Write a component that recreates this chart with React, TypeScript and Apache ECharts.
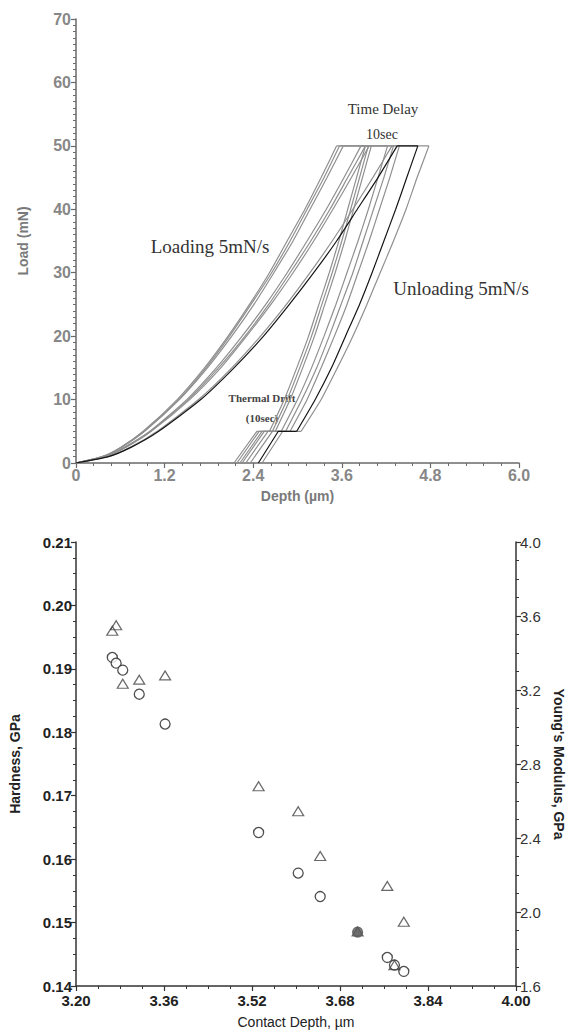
import { useEffect, useRef } from 'react';
import * as echarts from 'echarts';

// ---------- Top chart: load–depth curves ----------
const loadLevels = [0, 1, 2.5, 5, 10, 15, 20, 25, 30, 35, 40, 45, 50];
const loadingDepths = [
  [0, 0.35, 0.61, 0.91, 1.37, 1.74, 2.06, 2.35, 2.62, 2.86, 3.10, 3.32, 3.53],
  [0, 0.36, 0.61, 0.92, 1.39, 1.76, 2.08, 2.37, 2.65, 2.90, 3.13, 3.36, 3.57],
  [0, 0.36, 0.62, 0.93, 1.40, 1.78, 2.11, 2.41, 2.68, 2.94, 3.17, 3.40, 3.62],
  [0, 0.39, 0.66, 1.00, 1.50, 1.90, 2.25, 2.57, 2.86, 3.13, 3.39, 3.63, 3.86],
  [0, 0.39, 0.67, 1.01, 1.52, 1.93, 2.29, 2.61, 2.90, 3.18, 3.44, 3.68, 3.92],
  [0, 0.40, 0.68, 1.02, 1.54, 1.96, 2.31, 2.64, 2.94, 3.22, 3.48, 3.73, 3.97],
  [0, 0.44, 0.75, 1.12, 1.69, 2.14, 2.54, 2.89, 3.22, 3.53, 3.81, 4.09, 4.35],
  [0, 0.43, 0.74, 1.10, 1.66, 2.11, 2.50, 2.85, 3.17, 3.47, 3.75, 4.02, 4.28],
];
const holdLoad = 50;
const holdEndDepths = [3.92, 3.96, 4.0, 4.22, 4.3, 4.38, 4.63, 4.78];
const unloadLevels = [45, 40, 35, 30, 25, 20, 15, 10, 5];
const unloadingDepths = [
  [3.80, 3.68, 3.56, 3.43, 3.29, 3.15, 2.99, 2.82, 2.62],
  [3.84, 3.72, 3.60, 3.47, 3.33, 3.19, 3.03, 2.86, 2.66],
  [3.88, 3.76, 3.64, 3.51, 3.37, 3.23, 3.07, 2.90, 2.70],
  [4.09, 3.96, 3.82, 3.67, 3.52, 3.36, 3.19, 3.00, 2.78],
  [4.17, 4.03, 3.89, 3.75, 3.59, 3.43, 3.26, 3.06, 2.84],
  [4.25, 4.11, 3.97, 3.82, 3.67, 3.50, 3.32, 3.13, 2.90],
  [4.48, 4.33, 4.17, 4.01, 3.84, 3.65, 3.46, 3.24, 2.99],
  [4.62, 4.47, 4.30, 4.12, 3.94, 3.75, 3.54, 3.32, 3.05],
];
const driftLoad = 5;
const driftEndDepths = [2.45, 2.48, 2.52, 2.55, 2.6, 2.66, 2.74, 2.8];
const finalDepths = [2.14, 2.18, 2.22, 2.25, 2.3, 2.36, 2.47, 2.52];
const blackCurve = 6;

const depthTicks = [0, 1.2, 2.4, 3.6, 4.8, 6.0];
const loadTicks = [0, 10, 20, 30, 40, 50, 60, 70];

// ---------- Bottom chart: hardness / modulus ----------
const contactDepth = [3.266, 3.273, 3.285, 3.315, 3.362, 3.532, 3.604, 3.644, 3.712, 3.766, 3.779, 3.796];
const hardness = [0.1918, 0.1909, 0.1898, 0.186, 0.1813, 0.1642, 0.1578, 0.1541, 0.1485, 0.1445, 0.1433, 0.1423];
const modulus = [3.52, 3.55, 3.234, 3.256, 3.279, 2.68, 2.545, 2.303, 1.895, 2.141, 1.713, 1.947];
const highlightedIndex = 8;

const contactTicks = [3.2, 3.36, 3.52, 3.68, 3.84, 4.0];
const hardnessTicks = [0.14, 0.15, 0.16, 0.17, 0.18, 0.19, 0.2, 0.21];
const modulusTicks = [1.6, 2.0, 2.4, 2.8, 3.2, 3.6, 4.0];

export default function App() {
  const ref = useRef<HTMLDivElement>(null);

  useEffect(() => {
    if (!ref.current) return;
    const chart = echarts.init(ref.current, null, { renderer: 'svg' });

    const GRAY = '#8f8f8f';
    const BLACK = '#151515';
    const topSeries: any[] = [];
    loadingDepths.forEach((depths, i) => {
      const color = i === blackCurve ? BLACK : GRAY;
      const base = {
        type: 'line',
        xAxisIndex: 0,
        yAxisIndex: 0,
        showSymbol: false,
        symbol: 'none',
        lineStyle: { color, width: 1.2 },
        silent: true,
        z: i === blackCurve ? 3 : 2,
      };
      const hMax = depths[depths.length - 1];
      topSeries.push({
        ...base,
        smooth: 0.2,
        data: loadLevels.map((p, j) => [depths[j], p]),
      });
      topSeries.push({
        ...base,
        data: [
          [hMax, holdLoad],
          [holdEndDepths[i], holdLoad],
        ],
      });
      topSeries.push({
        ...base,
        smooth: 0.2,
        data: [[holdEndDepths[i], holdLoad], ...unloadLevels.map((p, j) => [unloadingDepths[i][j], p])],
      });
      const h5 = unloadingDepths[i][unloadingDepths[i].length - 1];
      topSeries.push({
        ...base,
        data: [
          [h5, driftLoad],
          [driftEndDepths[i], driftLoad],
          [finalDepths[i], 0],
        ],
      });
    });

    const sans = 'Liberation Sans, Arial, sans-serif';
    const serif = 'Liberation Serif, Times New Roman, serif';
    const topAxisLine = { lineStyle: { color: '#6a6a6a', width: 1.5 } };
    const topLabel = { color: '#878787', fontSize: 16, fontWeight: 'bold', fontFamily: sans };
    const botAxisLine = { lineStyle: { color: '#333', width: 1.5 } };
    const botLabel = { color: '#222', fontSize: 15, fontWeight: 'bold', fontFamily: sans };

    chart.setOption({
      animation: false,
      backgroundColor: '#fff',
      grid: [
        { left: 76, top: 19, width: 443, height: 444 },
        { left: 76, top: 542, width: 444, height: 444 },
      ],
      xAxis: [
        {
          gridIndex: 0,
          type: 'value',
          min: depthTicks[0],
          max: depthTicks[depthTicks.length - 1],
          interval: depthTicks[1] - depthTicks[0],
          name: 'Depth (µm)',
          nameLocation: 'middle',
          nameGap: 26,
          nameTextStyle: { color: '#7a7a7a', fontSize: 14, fontWeight: 'bold', fontFamily: sans },
          axisLine: topAxisLine,
          axisTick: { show: true, length: 5, lineStyle: { color: '#6a6a6a', width: 1.2 } },
          minorTick: { show: true, splitNumber: 5, length: 3, lineStyle: { color: '#6a6a6a', width: 1 } },
          axisLabel: { ...topLabel, margin: 4, formatter: (v: number) => (v === 0 ? '0' : v.toFixed(1)) },
          splitLine: { show: false },
        },
        {
          gridIndex: 1,
          type: 'value',
          min: contactTicks[0],
          max: contactTicks[contactTicks.length - 1],
          interval: 0.16,
          name: 'Contact Depth, µm',
          nameLocation: 'middle',
          nameGap: 29,
          nameTextStyle: { color: '#222', fontSize: 14, fontFamily: sans },
          axisLine: botAxisLine,
          axisTick: { show: true, length: 5, lineStyle: { color: '#333', width: 1.2 } },
          minorTick: { show: true, splitNumber: 4, length: 3, lineStyle: { color: '#333', width: 1 } },
          axisLabel: { ...botLabel, margin: 7, formatter: (v: number) => v.toFixed(2) },
          splitLine: { show: false },
        },
      ],
      yAxis: [
        {
          gridIndex: 0,
          type: 'value',
          min: loadTicks[0],
          max: loadTicks[loadTicks.length - 1],
          interval: 10,
          name: 'Load (mN)',
          nameLocation: 'middle',
          nameGap: 46,
          nameTextStyle: { color: '#7a7a7a', fontSize: 14, fontWeight: 'bold', fontFamily: sans },
          axisLine: topAxisLine,
          axisTick: { show: true, length: 5, lineStyle: { color: '#6a6a6a', width: 1.2 } },
          minorTick: { show: true, splitNumber: 10, length: 3, lineStyle: { color: '#6a6a6a', width: 1 } },
          axisLabel: { ...topLabel, margin: 5 },
          splitLine: { show: false },
        },
        {
          gridIndex: 1,
          type: 'value',
          min: hardnessTicks[0],
          max: hardnessTicks[hardnessTicks.length - 1],
          interval: 0.01,
          name: 'Hardness, GPa',
          nameLocation: 'middle',
          nameGap: 54,
          nameTextStyle: { color: '#222', fontSize: 14, fontWeight: 'bold', fontFamily: sans },
          axisLine: botAxisLine,
          axisTick: { show: true, length: 5, lineStyle: { color: '#333', width: 1.2 } },
          minorTick: { show: true, splitNumber: 4, length: 3, lineStyle: { color: '#333', width: 1 } },
          axisLabel: { ...botLabel, margin: 4, formatter: (v: number) => v.toFixed(2) },
          splitLine: { show: false },
        },
        {
          gridIndex: 1,
          type: 'value',
          position: 'right',
          min: modulusTicks[0],
          max: modulusTicks[modulusTicks.length - 1],
          interval: 0.4,
          name: "Young's Modulus, GPa",
          nameLocation: 'middle',
          nameRotate: -90,
          nameGap: 36,
          nameTextStyle: { color: '#222', fontSize: 14, fontWeight: 'bold', fontFamily: sans },
          axisLine: { show: true, ...botAxisLine },
          axisTick: { show: true, length: 5, lineStyle: { color: '#333', width: 1.2 } },
          minorTick: { show: true, splitNumber: 4, length: 3, lineStyle: { color: '#333', width: 1 } },
          axisLabel: { color: '#333', fontSize: 15, fontFamily: sans, margin: 4, formatter: (v: number) => v.toFixed(1) },
          splitLine: { show: false },
        },
      ],
      series: [
        ...topSeries,
        {
          type: 'scatter',
          xAxisIndex: 1,
          yAxisIndex: 1,
          symbol: 'circle',
          symbolSize: 10,
          itemStyle: { color: '#fff', borderColor: '#222', borderWidth: 1.3 },
          data: contactDepth.map((d, i) =>
            i === highlightedIndex
              ? { value: [d, hardness[i]], itemStyle: { color: '#666', borderColor: '#555' } }
              : [d, hardness[i]]
          ),
          z: 3,
        },
        {
          type: 'scatter',
          xAxisIndex: 1,
          yAxisIndex: 2,
          symbol: 'triangle',
          symbolSize: [11, 9],
          itemStyle: { color: 'rgba(255,255,255,0)', borderColor: '#444', borderWidth: 1.2 },
          data: contactDepth.map((d, i) =>
            i === highlightedIndex
              ? { value: [d, modulus[i]], itemStyle: { color: '#666', borderColor: '#555' } }
              : [d, modulus[i]]
          ),
          z: 4,
        },
      ],
      graphic: [
        { type: 'text', x: 383, y: 109, style: { text: 'Time Delay', align: 'center', verticalAlign: 'middle', font: `15px ${serif}`, fill: '#333' } },
        { type: 'text', x: 382, y: 134, style: { text: '10sec', align: 'center', verticalAlign: 'middle', font: `14px ${serif}`, fill: '#333' } },
        { type: 'text', x: 210, y: 246, style: { text: 'Loading 5mN/s', align: 'center', verticalAlign: 'middle', font: `19px ${serif}`, fill: '#333' } },
        { type: 'text', x: 461, y: 288, style: { text: 'Unloading 5mN/s', align: 'center', verticalAlign: 'middle', font: `19px ${serif}`, fill: '#333' } },
        { type: 'text', x: 262, y: 398, style: { text: 'Thermal Drift', align: 'center', verticalAlign: 'middle', font: `bold 11px ${serif}`, fill: '#444' } },
        { type: 'text', x: 262, y: 418, style: { text: '(10sec)', align: 'center', verticalAlign: 'middle', font: `bold 11px ${serif}`, fill: '#444' } },
      ],
    });

    return () => chart.dispose();
  }, []);

  return (
    <div
      ref={ref}
      style={{ position: 'fixed', left: 0, top: 0, width: 574, height: 1031, background: '#fff' }}
    />
  );
}
